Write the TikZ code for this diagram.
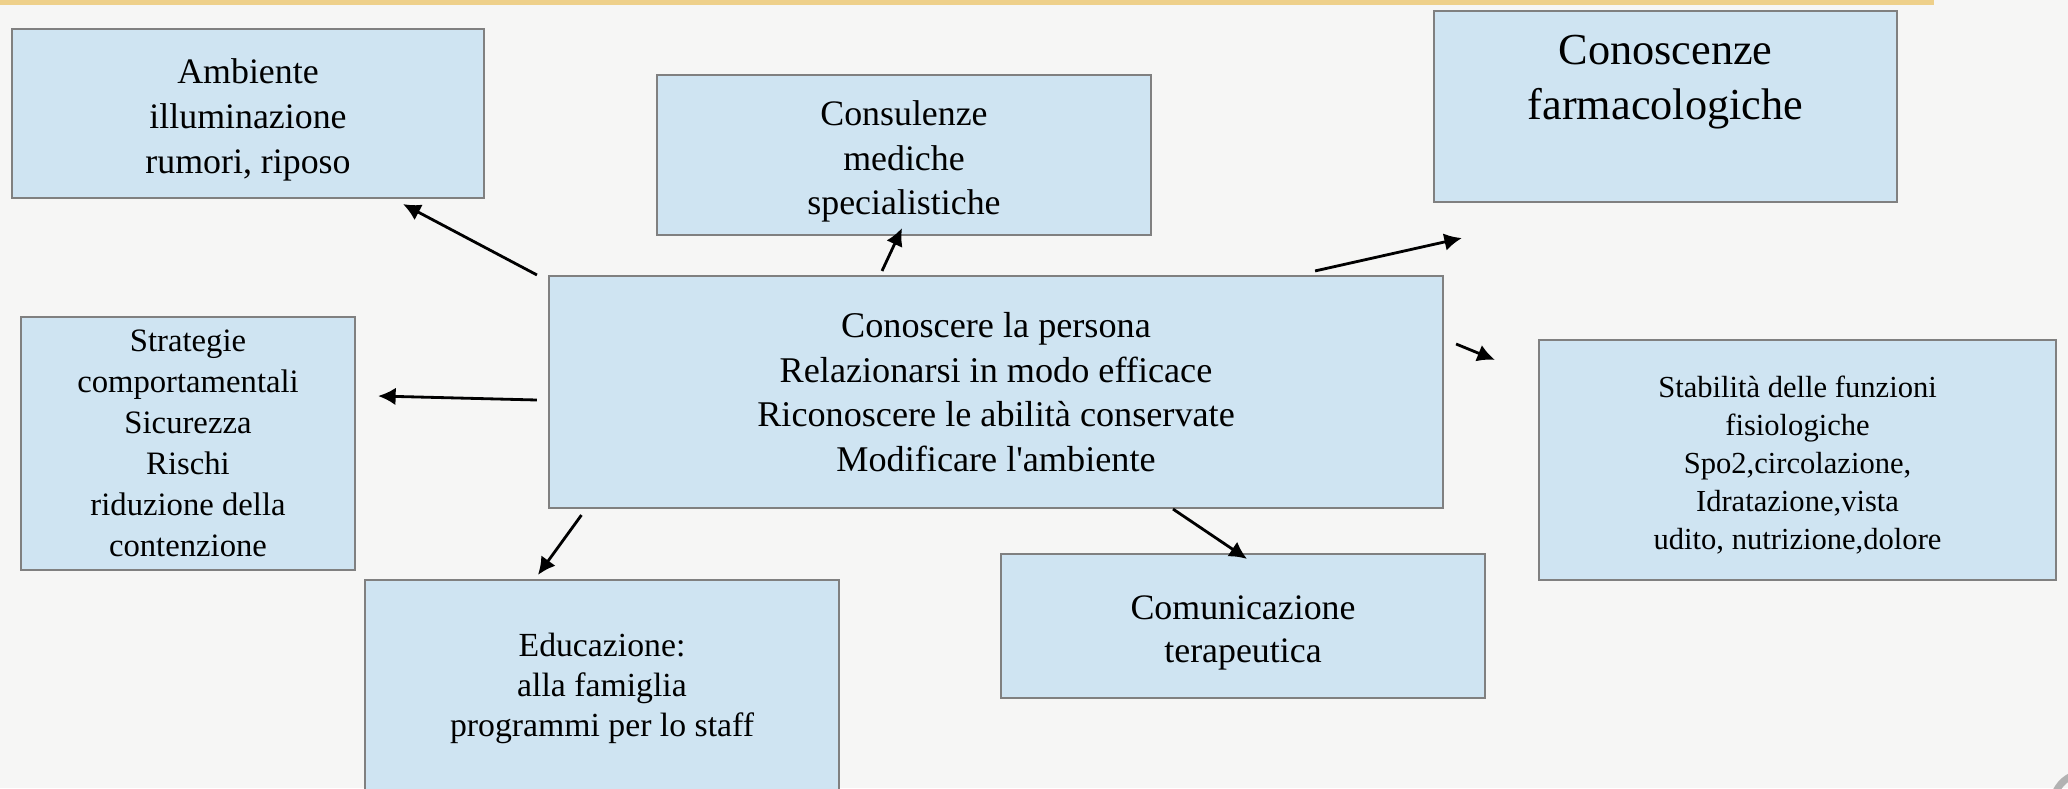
\documentclass[tikz,border=0pt]{standalone}
\usepackage{fontspec}
\setmainfont{Liberation Serif}
\usepackage{xcolor}
\usepackage{tikz}
\usetikzlibrary{arrows.meta}
\definecolor{boxfill}{RGB}{207,228,242}
\definecolor{boxline}{RGB}{128,128,128}
\definecolor{slidebg}{RGB}{246,246,245}
\definecolor{topline}{RGB}{238,208,138}
\newcommand{\tallstrut}{\rule{0pt}{1.05em}}
\tikzstyle{box} = [rectangle, inner sep=0pt, align=center, draw=boxline, line width=0.6pt, fill=boxfill]
\tikzstyle{arrow} = [thick,-{Latex[length=5pt,width=5pt]}]

\begin{document}
\begin{tikzpicture}
\useasboundingbox (0,0) rectangle (20.68,-7.88);
\fill [slidebg] (0,0) rectangle (20.68,-7.88);
\fill [topline] (0,0) rectangle (19.34,-0.05);
\draw [gray!60, line width=2pt] (20.85,-8.05) circle (0.32);

\node (ambiente) [box, minimum width=4.72cm, minimum height=1.69cm, xshift=2.48cm, yshift=-1.135cm, font=\fontsize{10.2}{12.9}\selectfont] {\tallstrut Ambiente\\illuminazione\\rumori, riposo};
\node (consulenze) [box, minimum width=4.94cm, minimum height=1.60cm, xshift=9.04cm, yshift=-1.55cm, font=\fontsize{10.2}{12.7}\selectfont] {\tallstrut Consulenze\\mediche\\specialistiche};
\node (conoscenze) [box, minimum width=4.63cm, minimum height=1.91cm, xshift=16.655cm, yshift=-1.065cm, font=\fontsize{12.6}{15.7}\selectfont] {Conoscenze\\farmacologiche\\[1pt]\mbox{}};
\node (centro) [box, minimum width=8.94cm, minimum height=2.32cm, xshift=9.96cm, yshift=-3.92cm, font=\fontsize{10.3}{12.7}\selectfont] {Conoscere la persona\\Relazionarsi in modo efficace\\Riconoscere le abilità conservate\\Modificare l{\textquotesingle}ambiente};
\node (strategie) [box, minimum width=3.34cm, minimum height=2.53cm, xshift=1.88cm, yshift=-4.435cm, font=\fontsize{9.3}{11.7}\selectfont] {Strategie\\comportamentali\\Sicurezza\\Rischi\\riduzione della\\contenzione};
\node (stabilita) [box, minimum width=5.17cm, minimum height=2.40cm, xshift=17.975cm, yshift=-4.60cm, font=\fontsize{8.7}{10.8}\selectfont] {\tallstrut Stabilità delle funzioni\\fisiologiche\\Spo2,circolazione,\\Idratazione,vista\\udito, nutrizione,dolore};
\node (comunicazione) [box, minimum width=4.84cm, minimum height=1.44cm, xshift=12.43cm, yshift=-6.26cm, font=\fontsize{10.2}{12.4}\selectfont] {\tallstrut Comunicazione\\terapeutica};
\node (educazione) [box, minimum width=4.74cm, minimum height=2.16cm, xshift=6.02cm, yshift=-6.88cm, font=\fontsize{9.6}{11.4}\selectfont] {Educazione:\\alla famiglia\\programmi per lo staff};

\draw [arrow] ([xshift=-0.11cm]centro.north west) -- ([xshift=1.55cm, yshift=-0.05cm]ambiente.south);
\draw [arrow] ([xshift=-1.14cm, yshift=0.04cm]centro.north) -- ([xshift=-0.02cm, yshift=0.08cm]consulenze.south);
\draw [arrow] ([xshift=-1.29cm, yshift=0.04cm]centro.north east) -- ([xshift=0.29cm, yshift=-0.35cm]conoscenze.south west);
\draw [arrow] ([xshift=0.12cm, yshift=0.48cm]centro.east) -- ([xshift=-0.43cm, yshift=-0.21cm]stabilita.north west);
\draw [arrow] ([xshift=-0.11cm, yshift=-0.08cm]centro.west) -- ([xshift=0.22cm, yshift=0.475cm]strategie.east);
\draw [arrow] ([xshift=0.335cm, yshift=-0.06cm]centro.south west) -- ([xshift=1.74cm, yshift=0.04cm]educazione.north west);
\draw [arrow] ([xshift=1.77cm]centro.south) -- ([xshift=0.04cm, yshift=-0.06cm]comunicazione.north);
\end{tikzpicture}
\end{document}
